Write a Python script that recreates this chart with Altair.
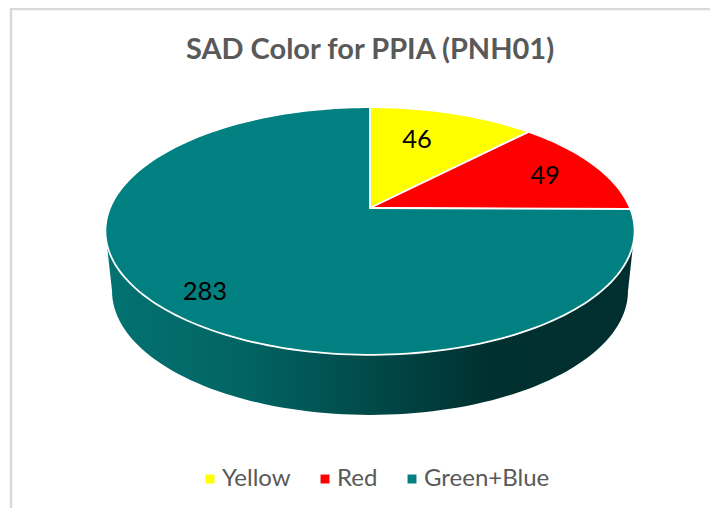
import math
import altair as alt

# --- chart values
categories = ["Yellow", "Red", "Green+Blue"]
values = [46, 49, 283]
colors = ["#FFFF00", "#FF0000", "#008080"]
title_text = "SAD Color for PPIA (PNH01)"

# label anchors, in pie units (1 = pie radius along the horizontal through the vertex)
label_lon = [0.181, 0.673, -0.635]
label_lat = [0.262, 0.125, -0.323]

# tilted-disc view: perspective of a flat disc
K = 0.1855       # foreshortening of the far edge
TILT = 0.460     # vertical squash
DEPTH = 0.231    # thickness of the pie
BOTTOM = 0.975   # bottom rim is slightly narrower


def disc(angle_deg, r=1.0):
    a = math.radians(angle_deg)
    u, v = r * math.sin(a), r * math.cos(a)
    w = 1 + K * v
    return [u / w, TILT * v / w]


def polygon(ring):
    return {"type": "Polygon", "coordinates": [ring + [ring[0]]]}


total = sum(values)
features = []
start = 0.0
for name, val in zip(categories, values):
    end = start + val / total * 360
    n = max(2, int((end - start) / 1.5))
    ring = [[0.0, 0.0]] + [disc(start + (end - start) * i / n) for i in range(n + 1)]
    features.append({"type": "Feature", "properties": {"name": name}, "geometry": polygon(ring)})
    start = end

# wall of the disc, from the left rim along the front to the right rim
cy = (disc(0)[1] + disc(180)[1]) / 2
xmax = 1 / math.sqrt(1 - K * K)
ry = (disc(0)[1] - disc(180)[1]) / 2
front = [[xmax * math.cos(math.radians(t)), cy + ry * math.sin(math.radians(t))] for t in range(180, 361, 2)]
back = [[BOTTOM * p[0], p[1] - DEPTH] for p in reversed(front)]
wall = [{"type": "Feature", "properties": {"name": "wall"}, "geometry": polygon(front + back)}]

labels = [{"lon": x, "lat": y, "v": v} for x, y, v in zip(label_lon, label_lat, values)]

wall_fill = alt.LinearGradient(
    gradient="linear", x1=0, x2=1, y1=0, y2=0,
    stops=[
        alt.GradientStop(offset=0.0, color="#027271"),
        alt.GradientStop(offset=0.25, color="#026564"),
        alt.GradientStop(offset=0.47, color="#014d4d"),
        alt.GradientStop(offset=0.72, color="#013030"),
        alt.GradientStop(offset=1.0, color="#012f2f"),
    ],
)

side = alt.Chart(alt.Data(values=wall)).mark_geoshape(fill=wall_fill, strokeWidth=0)

top = alt.Chart(alt.Data(values=features)).mark_geoshape(
    stroke="white", strokeWidth=1.8
).encode(
    fill=alt.Fill(
        "properties.name:N",
        scale=alt.Scale(domain=categories, range=colors),
        legend=alt.Legend(
            title=None, orient="none", legendX=190, legendY=459, direction="horizontal",
            columns=3, symbolType="square", symbolSize=80, symbolStrokeWidth=0,
            labelFont="Lato", labelFontSize=24, labelColor="#595959",
            columnPadding=22, labelOffset=0, labelLimit=300,
        ),
    )
)

text = alt.Chart(alt.Data(values=labels)).mark_text(
    font="Lato", fontSize=25.5, color="#000000"
).encode(longitude="lon:Q", latitude="lat:Q", text="v:Q")

border_left = alt.Chart(alt.Data(values=[{"a": 0}])).mark_rule(color="#d9d9d9", strokeWidth=2.5).encode(
    x=alt.value(3), y=alt.value(0), y2=alt.value(500)
)
border_top = alt.Chart(alt.Data(values=[{"a": 0}])).mark_rule(color="#d9d9d9", strokeWidth=2.5).encode(
    x=alt.value(2), x2=alt.value(702), y=alt.value(1)
)

chart = alt.layer(border_left, border_top, side, top, text).project(
    type="identity", reflectY=True, scale=260, translate=[362, 200]
).properties(
    width=702, height=500, padding=0,
    autosize=alt.AutoSizeParams(type="none"),
    title=alt.TitleParams(
        title_text, font="Lato", fontSize=29, fontWeight="bold", color="#595959",
        anchor="middle", dx=11, dy=58, offset=0,
    ),
).configure_view(stroke=None)

chart.save("out.html", embed_options={"renderer": "svg", "actions": False})
